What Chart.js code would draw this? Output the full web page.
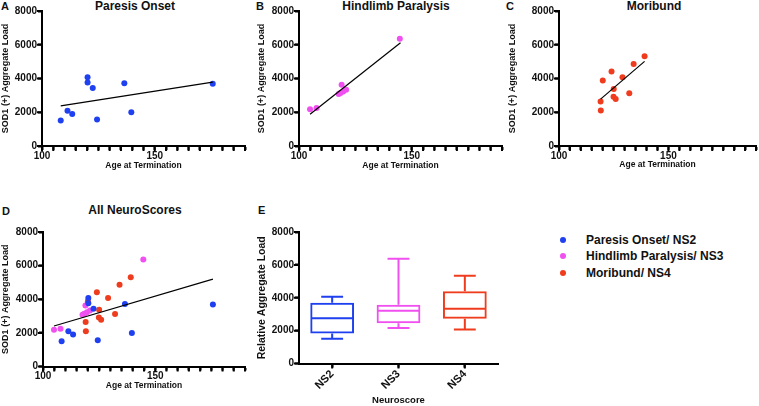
<!DOCTYPE html>
<html>
<head>
<meta charset="utf-8">
<script src="https://cdn.jsdelivr.net/npm/chart.js@4.4.0/dist/chart.umd.min.js"></script>
<style>
  body { margin: 0; background: #fff; }
  #wrap { position: relative; width: 759px; height: 406px; overflow: hidden;
          font-family: 'Liberation Sans', Arial, sans-serif; font-weight: bold; color: #111; }
  .pane { position: absolute; }
  .letter { position: absolute; font-size: 11px; line-height: 1; }
  .title { position: absolute; font-size: 12px; line-height: 1; white-space: nowrap; transform: translateX(-50%); }
  .key { position: absolute; left: 560px; font-size: 12px; line-height: 1; white-space: nowrap; }
  .key i { position: absolute; left: 0; top: 3px; width: 6px; height: 6px; border-radius: 50%; }
  .key span { position: absolute; left: 26px; top: 0; }
</style>
</head>
<body>
<div id="wrap">
  <div class="letter" style="left:1px; top:1px;">A</div>
  <div class="letter" style="left:256px; top:1px;">B</div>
  <div class="letter" style="left:506px; top:1px;">C</div>
  <div class="letter" style="left:2px; top:206px;">D</div>
  <div class="letter" style="left:258px; top:205px;">E</div>

  <div class="title" style="left:135px; top:0px;">Paresis Onset</div>
  <div class="title" style="left:396px; top:0px;">Hindlimb Paralysis</div>
  <div class="title" style="left:654px; top:0px;">Moribund</div>
  <div class="title" style="left:135px; top:204px;">All NeuroScores</div>

  <div class="pane" style="left:0; top:0;"><canvas id="chartA" width="250" height="180"></canvas></div>
  <div class="pane" style="left:250px; top:0;"><canvas id="chartB" width="255" height="180"></canvas></div>
  <div class="pane" style="left:505px; top:0;"><canvas id="chartC" width="254" height="180"></canvas></div>
  <div class="pane" style="left:0; top:200px;"><canvas id="chartD" width="250" height="206"></canvas></div>
  <div class="pane" style="left:250px; top:200px;"><canvas id="chartE" width="255" height="206"></canvas></div>

  <div class="key" style="top:234px;"><i style="background:#1e40f0;"></i><span>Paresis Onset/ NS2</span></div>
  <div class="key" style="top:250px;"><i style="background:#f050f0;"></i><span>Hindlimb Paralysis/ NS3</span></div>
  <div class="key" style="top:267px;"><i style="background:#f03c1e;"></i><span>Moribund/ NS4</span></div>
</div>
<script>
// Paresis onset (NS2)
const paresisAge  = [108.3, 111.3, 113.4, 120.2, 120.2, 122.5, 124.4, 136.5, 139.6, 175.7];
const paresisLoad = [1506, 2094, 1900, 4076, 3765, 3430, 1565, 3724, 2000, 3682];

// Hindlimb paralysis (NS3)
const hindAge  = [104.9, 107.8, 117.6, 118.4, 118.9, 119.6, 120.9, 144.7];
const hindLoad = [2180, 2250, 3076, 3135, 3630, 3230, 3329, 6360];

// Moribund (NS4)
const moriAge  = [119.0, 119.1, 120.0, 124.0, 124.9, 125.0, 125.9, 129.0, 132.1, 134.1, 139.1];
const moriLoad = [2640, 2100, 3875, 4416, 2916, 3378, 2778, 4080, 3120, 4860, 5315];

// fitted lines (start, end)
const fitAgeA = [108.3, 175.7], fitLoadA = [2375, 3790];
const fitAgeB = [104.9, 145.0], fitLoadB = [1880, 6120];
const fitAgeC = [119.0, 139.1], fitLoadC = [2780, 5015];
const fitAgeD = [104.9, 175.7], fitLoadD = [2410, 5200];

// box plot (panel E)
const scoreLabels = ['NS2', 'NS3', 'NS4'];
const boxMin    = [1515, 2157, 2079];
const boxQ1     = [1836, 2460, 2727];
const boxMedian = [2760, 3212, 3333];
const boxQ3     = [3700, 3576, 4400];
const boxMax    = [4060, 6380, 5333];

const blue = '#1e40f0', magenta = '#f050f0', red = '#f03c1e';
const boxColors = [blue, magenta, red];

Chart.defaults.font.family = "'Liberation Sans', Arial, sans-serif";
Chart.defaults.font.weight = 'bold';
Chart.defaults.color = '#111';

const pts = (xs, ys) => xs.map((x, i) => ({ x: x, y: ys[i] }));

function axisBorder() {
    return { display: true, color: '#000', width: 2 };
}
function tickGrid() {
    return { display: true, drawOnChartArea: false, drawTicks: true, tickLength: 4, tickWidth: 2, tickColor: '#000' };
}

// outward tick marks on every axis, placed by the scale itself
const tickMarks = {
    id: 'tickMarks',
    afterDraw(chart) {
        const ctx = chart.ctx;
        ctx.save();
        ctx.strokeStyle = '#000';
        ctx.lineWidth = 2;
        ctx.beginPath();
        Object.values(chart.scales).forEach(s => {
            s.ticks.forEach((t, i) => {
                const p = s.getPixelForTick(i);
                if (s.isHorizontal()) {
                    ctx.moveTo(p, s.top); ctx.lineTo(p, s.top + 5);
                } else {
                    ctx.moveTo(s.right - 5, p); ctx.lineTo(s.right, p);
                }
            });
        });
        ctx.stroke();
        ctx.restore();
    }
};

function yAxis(width, titlePad, titleSize, titleText) {
    return {
        min: 0, max: 8000,
        border: axisBorder(),
        grid: tickGrid(),
        ticks: { stepSize: 2000, padding: 1, font: { size: 10, weight: 'bold' }, color: '#111', callback: v => v },
        title: { display: true, text: titleText, font: { size: titleSize, weight: 'bold' }, color: '#111', padding: { top: titlePad, bottom: 0 } },
        afterFit: s => { s.width = width; }
    };
}

function ageAxis(height, titlePad) {
    return {
        type: 'linear', min: 100, max: 190,
        border: axisBorder(),
        grid: tickGrid(),
        ticks: {
            stepSize: 5, autoSkip: false, maxRotation: 0, padding: 0,
            font: { size: 10, weight: 'bold' }, color: '#111',
            callback: v => (Math.round(v) % 50 === 0 ? Math.round(v) : '')
        },
        title: { display: true, text: 'Age at Termination', font: { size: 8.5, weight: 'bold' }, color: '#111', padding: { top: 0, bottom: titlePad } },
        afterFit: s => { s.height = height; }
    };
}

function dots(xs, ys, color) {
    return { type: 'scatter', data: pts(xs, ys), backgroundColor: color, borderWidth: 0, pointRadius: 3, pointHoverRadius: 3 };
}

function fitLine(xs, ys) {
    return { type: 'line', data: pts(xs, ys), borderColor: '#000', borderWidth: 1.2, pointRadius: 0, fill: false };
}

function scatterPanel(id, datasets, o) {
    new Chart(document.getElementById(id), {
        type: 'scatter',
        data: { datasets: datasets },
        options: {
            responsive: false, animation: false, devicePixelRatio: 1,
            layout: { padding: o.pad },
            plugins: { legend: { display: false }, tooltip: { enabled: false } },
            scales: {
                x: ageAxis(o.xH, o.xTitlePad),
                y: yAxis(o.yW, o.yTitlePad, 9, 'SOD1 (+) Aggregate Load')
            }
        },
        plugins: [tickMarks]
    });
}

scatterPanel('chartA', [fitLine(fitAgeA, fitLoadA), dots(paresisAge, paresisLoad, blue)],
    { pad: { top: 11, right: 5, bottom: 0, left: 0 }, xH: 34, xTitlePad: 9, yW: 42, yTitlePad: 0 });

scatterPanel('chartB', [fitLine(fitAgeB, fitLoadB), dots(hindAge, hindLoad, magenta)],
    { pad: { top: 11, right: 3, bottom: 0, left: 0 }, xH: 34, xTitlePad: 9, yW: 49, yTitlePad: 6.6 });

scatterPanel('chartC', [fitLine(fitAgeC, fitLoadC), dots(moriAge, moriLoad, red)],
    { pad: { top: 11, right: 2, bottom: 0, left: 0 }, xH: 34, xTitlePad: 10, yW: 54, yTitlePad: 2.6 });

scatterPanel('chartD', [
        fitLine(fitAgeD, fitLoadD),
        dots(paresisAge, paresisLoad, blue),
        dots(hindAge, hindLoad, magenta),
        dots(moriAge, moriLoad, red)
    ],
    { pad: { top: 32, right: 5, bottom: 0, left: 0 }, xH: 39.5, xTitlePad: 15, yW: 43, yTitlePad: 0 });

// whiskers and medians drawn on top of the floating-bar boxes
const whiskerPlugin = {
    id: 'whiskers',
    afterDatasetsDraw(chart) {
        const ctx = chart.ctx;
        const y = chart.scales.y;
        chart.getDatasetMeta(0).data.forEach((bar, i) => {
            const half = bar.width / 2 - 1;
            const cap = bar.width / 4;
            const yMin = y.getPixelForValue(boxMin[i]);
            const yMax = y.getPixelForValue(boxMax[i]);
            const yMed = y.getPixelForValue(boxMedian[i]);
            ctx.save();
            ctx.strokeStyle = boxColors[i];
            ctx.lineWidth = 2;
            ctx.beginPath();
            ctx.moveTo(bar.x - half, yMed); ctx.lineTo(bar.x + half, yMed);
            ctx.moveTo(bar.x, y.getPixelForValue(boxQ3[i])); ctx.lineTo(bar.x, yMax);
            ctx.moveTo(bar.x - cap, yMax); ctx.lineTo(bar.x + cap, yMax);
            ctx.moveTo(bar.x, y.getPixelForValue(boxQ1[i])); ctx.lineTo(bar.x, yMin);
            ctx.moveTo(bar.x - cap, yMin); ctx.lineTo(bar.x + cap, yMin);
            ctx.stroke();
            ctx.restore();
        });
    }
};

new Chart(document.getElementById('chartE'), {
    type: 'bar',
    data: {
        labels: scoreLabels,
        datasets: [{
            data: boxQ1.map((q, i) => [q, boxQ3[i]]),
            backgroundColor: 'rgba(0,0,0,0)',
            borderColor: boxColors,
            borderWidth: 2,
            borderSkipped: false,
            barPercentage: 0.66,
            categoryPercentage: 1
        }]
    },
    options: {
        responsive: false, animation: false, devicePixelRatio: 1,
        layout: { padding: { top: 32, right: 7, bottom: 0, left: 0 } },
        plugins: { legend: { display: false }, tooltip: { enabled: false } },
        scales: {
            x: {
                border: axisBorder(),
                grid: Object.assign(tickGrid(), { offset: false }),
                ticks: { minRotation: 45, maxRotation: 45, padding: 0, font: { size: 11, weight: 'bold' }, color: '#111' },
                title: { display: true, text: 'Neuroscore', font: { size: 9.5, weight: 'bold' }, color: '#111', padding: { top: 0, bottom: 0 } },
                afterFit: s => { s.height = 42.4; }
            },
            y: yAxis(49, 6.2, 10.5, 'Relative Aggregate Load')
        }
    },
    plugins: [whiskerPlugin, tickMarks]
});
</script>
</body>
</html>
